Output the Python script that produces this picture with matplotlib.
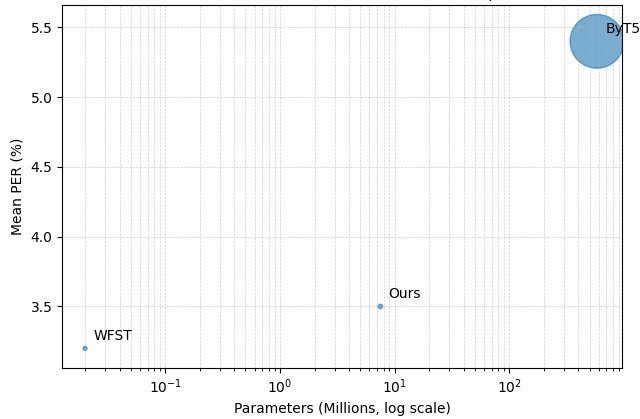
import matplotlib
matplotlib.use("Agg")
import matplotlib.pyplot as plt

models = ["WFST", "Ours", "ByT5"]
params_m = [0.02, 7.5, 580]
mean_per = [3.2, 3.5, 5.4]
footprint_mb = [8, 10, 1500]


def run():
    fig, ax = plt.subplots(figsize=(6.4, 4.19), dpi=100)
    ax.scatter(params_m, mean_per, s=footprint_mb, alpha=0.6, color="#1f77b4")
    for name, x, y in zip(models, params_m, mean_per):
        ax.annotate(name, (x, y), xytext=(6, 6), textcoords="offset points")
    ax.set_xscale("log")
    ax.set_xlim(0.0126, 960)
    ax.set_ylim(3.06, 5.66)
    ax.grid(True, which="both", ls="--", lw=0.5, alpha=0.6)
    ax.set_title("Parameter count vs. PER (bubble size = footprint MB)")
    ax.set_xlabel("Parameters (Millions, log scale)")
    ax.set_ylabel("Mean PER (%)")
    fig.subplots_adjust(left=0.097, right=0.972, top=0.988, bottom=0.122)
    fig.savefig("out.png")


if __name__ == "__main__":
    run()
